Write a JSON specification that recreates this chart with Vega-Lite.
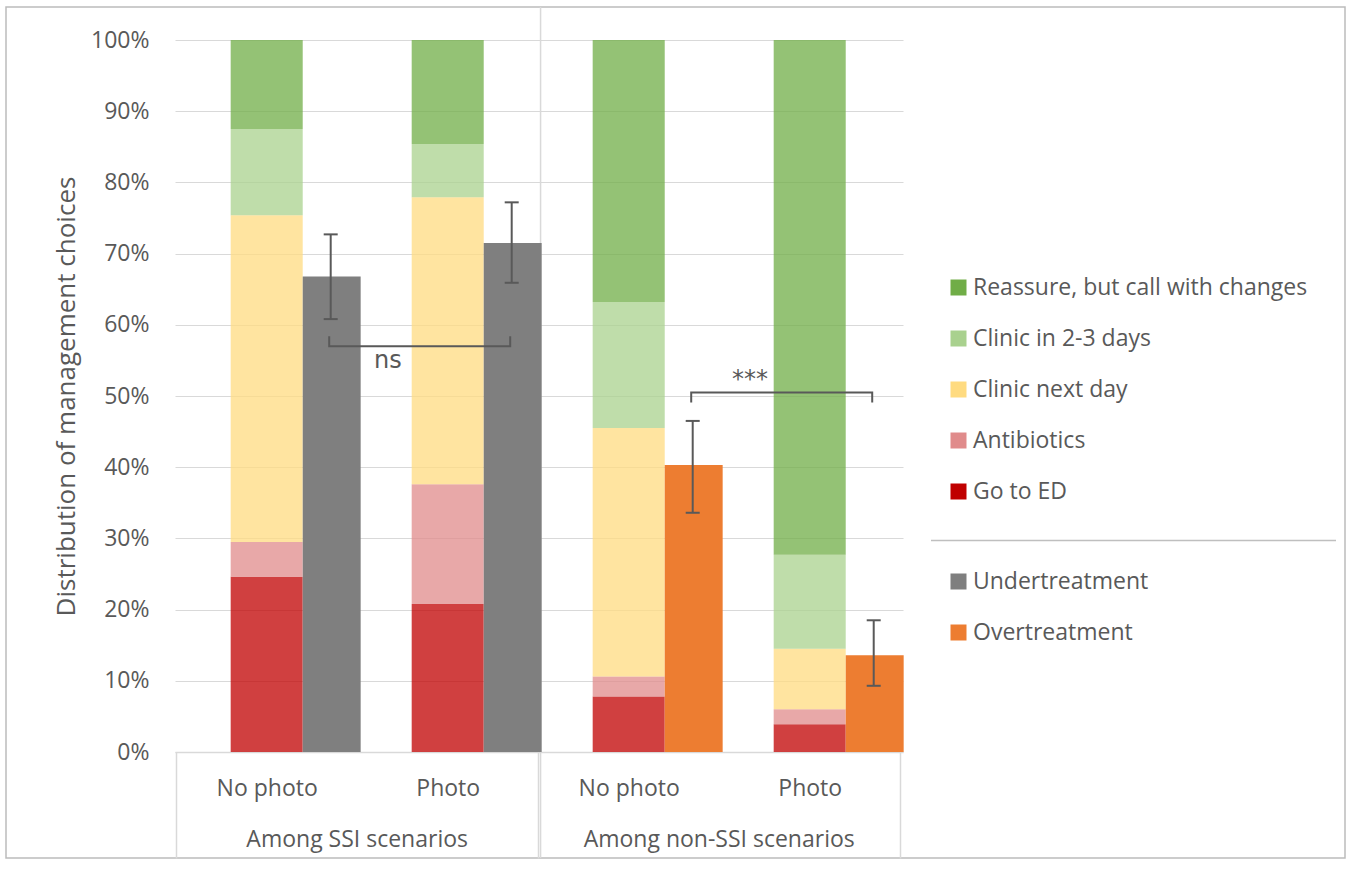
{
  "$schema": "https://vega.github.io/schema/vega-lite/v6.json",
  "width": 1339,
  "height": 851,
  "autosize": {"type": "none"},
  "padding": {"left": 6, "top": 7, "right": 5, "bottom": 11},
  "background": "white",
  "config": {
    "font": "Open Sans",
    "view": {"stroke": "#BCBCBC", "strokeWidth": 1.5},
    "axis": {"labelFont": "Open Sans", "titleFont": "Open Sans", "labelLimit": 500},
    "legend": {"labelFont": "Open Sans", "labelLimit": 500}
  },
  "datasets": {
    "mgmt": [
      {"cat": "SSI|No photo", "choice": "Go to ED", "rank": 1, "pct": 0.246},
      {"cat": "SSI|No photo", "choice": "Antibiotics", "rank": 2, "pct": 0.049},
      {"cat": "SSI|No photo", "choice": "Clinic next day", "rank": 3, "pct": 0.459},
      {"cat": "SSI|No photo", "choice": "Clinic in 2-3 days", "rank": 4, "pct": 0.121},
      {"cat": "SSI|No photo", "choice": "Reassure, but call with changes", "rank": 5, "pct": 0.125},
      {"cat": "SSI|Photo", "choice": "Go to ED", "rank": 1, "pct": 0.208},
      {"cat": "SSI|Photo", "choice": "Antibiotics", "rank": 2, "pct": 0.168},
      {"cat": "SSI|Photo", "choice": "Clinic next day", "rank": 3, "pct": 0.403},
      {"cat": "SSI|Photo", "choice": "Clinic in 2-3 days", "rank": 4, "pct": 0.075},
      {"cat": "SSI|Photo", "choice": "Reassure, but call with changes", "rank": 5, "pct": 0.146},
      {"cat": "nonSSI|No photo", "choice": "Go to ED", "rank": 1, "pct": 0.078},
      {"cat": "nonSSI|No photo", "choice": "Antibiotics", "rank": 2, "pct": 0.028},
      {"cat": "nonSSI|No photo", "choice": "Clinic next day", "rank": 3, "pct": 0.349},
      {"cat": "nonSSI|No photo", "choice": "Clinic in 2-3 days", "rank": 4, "pct": 0.177},
      {"cat": "nonSSI|No photo", "choice": "Reassure, but call with changes", "rank": 5, "pct": 0.368},
      {"cat": "nonSSI|Photo", "choice": "Go to ED", "rank": 1, "pct": 0.039},
      {"cat": "nonSSI|Photo", "choice": "Antibiotics", "rank": 2, "pct": 0.021},
      {"cat": "nonSSI|Photo", "choice": "Clinic next day", "rank": 3, "pct": 0.085},
      {"cat": "nonSSI|Photo", "choice": "Clinic in 2-3 days", "rank": 4, "pct": 0.132},
      {"cat": "nonSSI|Photo", "choice": "Reassure, but call with changes", "rank": 5, "pct": 0.723}
    ],
    "treat": [
      {"cat": "SSI|No photo", "type": "Undertreatment", "pct": 0.668, "lo": 0.608, "hi": 0.727},
      {"cat": "SSI|Photo", "type": "Undertreatment", "pct": 0.715, "lo": 0.659, "hi": 0.772},
      {"cat": "nonSSI|No photo", "type": "Overtreatment", "pct": 0.403, "lo": 0.336, "hi": 0.465},
      {"cat": "nonSSI|Photo", "type": "Overtreatment", "pct": 0.136, "lo": 0.093, "hi": 0.185}
    ],
    "brackets": [
      {"id": "ns", "cat": "SSI|No photo", "pt": 1, "y": 0.584},
      {"id": "ns", "cat": "SSI|No photo", "pt": 2, "y": 0.570},
      {"id": "ns", "cat": "SSI|Photo", "pt": 3, "y": 0.570},
      {"id": "ns", "cat": "SSI|Photo", "pt": 4, "y": 0.584},
      {"id": "sig", "cat": "nonSSI|No photo", "pt": 1, "y": 0.491},
      {"id": "sig", "cat": "nonSSI|No photo", "pt": 2, "y": 0.505},
      {"id": "sig", "cat": "nonSSI|Photo", "pt": 3, "y": 0.505},
      {"id": "sig", "cat": "nonSSI|Photo", "pt": 4, "y": 0.491}
    ],
    "sig": [
      {"cat": "SSI|Photo", "label": "ns", "y": 0.549},
      {"cat": "nonSSI|Photo", "label": "***", "y": 0.522}
    ],
    "divider": [
      {"cat": "SSI|Photo"}
    ]
  },
  "layer": [
    {
      "data": {"name": "divider"},
      "mark": {"type": "rule", "color": "#D9D9D9", "strokeWidth": 1.5},
      "encoding": {
        "x": {"field": "cat", "type": "nominal", "bandPosition": 1.013, "axis": null}
      }
    },
    {
      "data": {"name": "mgmt"},
      "mark": {"type": "bar", "width": {"band": 0.398}, "opacity": 0.75},
      "encoding": {
        "x": {
          "field": "cat", "type": "nominal", "sort": null,
          "scale": {
            "domain": ["SSI|No photo", "SSI|Photo", "nonSSI|No photo", "nonSSI|Photo"],
            "range": [169, 897], "paddingInner": 0, "paddingOuter": 0.011, "align": 0.3
          },
          "axis": {
            "orient": "bottom", "offset": -106, "title": null,
            "domain": true, "domainColor": "#D9D9D9", "domainWidth": 1.5,
            "ticks": true, "tickBand": "extent", "tickSize": 106, "tickColor": "#D9D9D9", "tickWidth": 1.5,
            "tickOpacity": {"condition": {"test": "datum.value === 'SSI|No photo' || datum.value === 'nonSSI|No photo'", "value": 0}, "value": 1},
            "labelExpr": "split(datum.value, '|')[1]",
            "labelFontSize": 23, "labelColor": "#595959", "labelAngle": 0,
            "labelBaseline": "alphabetic", "labelPadding": -63
          }
        },
        "y": {
          "field": "pct", "type": "quantitative", "stack": "zero",
          "scale": {"domain": [0, 1], "range": [745, 33], "nice": false, "zero": true},
          "axis": {
            "orient": "left",
            "title": "Distribution of management choices",
            "titleFontSize": 26, "titleColor": "#595959", "titleFontWeight": "normal",
            "titleX": 60, "titleY": 389, "titleAngle": -90, "titleAlign": "center", "titleBaseline": "middle",
            "values": [0, 0.1, 0.2, 0.3, 0.4, 0.5, 0.6, 0.7, 0.8, 0.9, 1],
            "format": ".0%", "domain": false, "ticks": false,
            "grid": true, "gridColor": "#D9D9D9", "gridWidth": 1.2,
            "labelFontSize": 23, "labelColor": "#595959", "labelPadding": -143, "labelAlign": "right"
          }
        },
        "color": {
          "field": "choice", "type": "nominal",
          "scale": {
            "domain": ["Reassure, but call with changes", "Clinic in 2-3 days", "Clinic next day", "Antibiotics", "Go to ED"],
            "range": ["#70AD47", "#A9D18E", "#FFDB80", "#E08B8B", "#C00000"]
          },
          "legend": {
            "orient": "none", "legendX": 941, "legendY": 269, "title": null, "padding": 0,
            "symbolType": "square", "symbolSize": 256, "symbolStrokeWidth": 0, "symbolOpacity": 1,
            "labelFontSize": 23, "labelColor": "#595959", "labelOffset": 3, "rowPadding": 27
          }
        },
        "order": {"field": "rank", "type": "quantitative", "sort": "ascending"}
      }
    },
    {
      "data": {"name": "treat"},
      "mark": {"type": "bar", "width": {"band": 0.32}, "xOffset": 65},
      "encoding": {
        "x": {
          "field": "cat", "type": "nominal",
          "axis": {
            "orient": "bottom", "offset": -106, "title": null,
            "domain": false, "ticks": false, "labelOffset": 90.5,
            "labelExpr": "datum.value === 'SSI|No photo' ? 'Among SSI scenarios' : (datum.value === 'nonSSI|No photo' ? 'Among non-SSI scenarios' : '')",
            "labelFontSize": 23, "labelColor": "#595959", "labelAngle": 0,
            "labelBaseline": "alphabetic", "labelPadding": 94, "labelOverlap": false
          }
        },
        "y": {"field": "pct", "type": "quantitative", "stack": null},
        "color": {
          "field": "type", "type": "nominal",
          "scale": {"domain": ["Undertreatment", "Overtreatment"], "range": ["#7F7F7F", "#ED7D31"]},
          "legend": {
            "orient": "none", "legendX": 941, "legendY": 563, "title": null, "padding": 0,
            "symbolType": "square", "symbolSize": 256, "symbolStrokeWidth": 0, "symbolOpacity": 1,
            "labelFontSize": 23, "labelColor": "#595959", "labelOffset": 3, "rowPadding": 27
          }
        }
      }
    },
    {
      "data": {"name": "treat"},
      "mark": {"type": "rule", "color": "#595959", "strokeWidth": 2, "xOffset": 64},
      "encoding": {
        "x": {"field": "cat", "type": "nominal", "axis": null},
        "y": {"field": "lo", "type": "quantitative"},
        "y2": {"field": "hi"}
      }
    },
    {
      "data": {"name": "treat"},
      "mark": {"type": "tick", "color": "#595959", "size": 14, "thickness": 2, "xOffset": 64, "opacity": 1},
      "encoding": {
        "x": {"field": "cat", "type": "nominal", "axis": null},
        "y": {"field": "lo", "type": "quantitative"}
      }
    },
    {
      "data": {"name": "treat"},
      "mark": {"type": "tick", "color": "#595959", "size": 14, "thickness": 2, "xOffset": 64, "opacity": 1},
      "encoding": {
        "x": {"field": "cat", "type": "nominal", "axis": null},
        "y": {"field": "hi", "type": "quantitative"}
      }
    },
    {
      "data": {"name": "brackets"},
      "mark": {"type": "line", "color": "#595959", "strokeWidth": 2, "xOffset": 62.5},
      "encoding": {
        "x": {"field": "cat", "type": "nominal", "axis": null},
        "y": {"field": "y", "type": "quantitative"},
        "detail": {"field": "id"},
        "order": {"field": "pt", "type": "quantitative"},
        "strokeDash": {
          "datum": "separator",
          "scale": {"range": [[1, 0]]},
          "legend": {
            "orient": "none", "legendX": 924, "legendY": 330, "title": null, "padding": 0,
            "symbolType": "stroke", "symbolSize": 164025, "symbolStrokeColor": "#BFBFBF",
            "symbolStrokeWidth": 1.5, "labelExpr": "''", "labelFontSize": 1
          }
        }
      }
    },
    {
      "data": {"name": "sig"},
      "mark": {"type": "text", "color": "#595959", "fontSize": 24, "align": "center", "baseline": "middle", "font": "DejaVu Sans"},
      "encoding": {
        "x": {"field": "cat", "type": "nominal", "bandPosition": 0.17, "axis": null},
        "y": {"field": "y", "type": "quantitative"},
        "text": {"field": "label"}
      }
    }
  ],
  "resolve": {"scale": {"color": "independent"}, "axis": {"x": "independent"}}
}
